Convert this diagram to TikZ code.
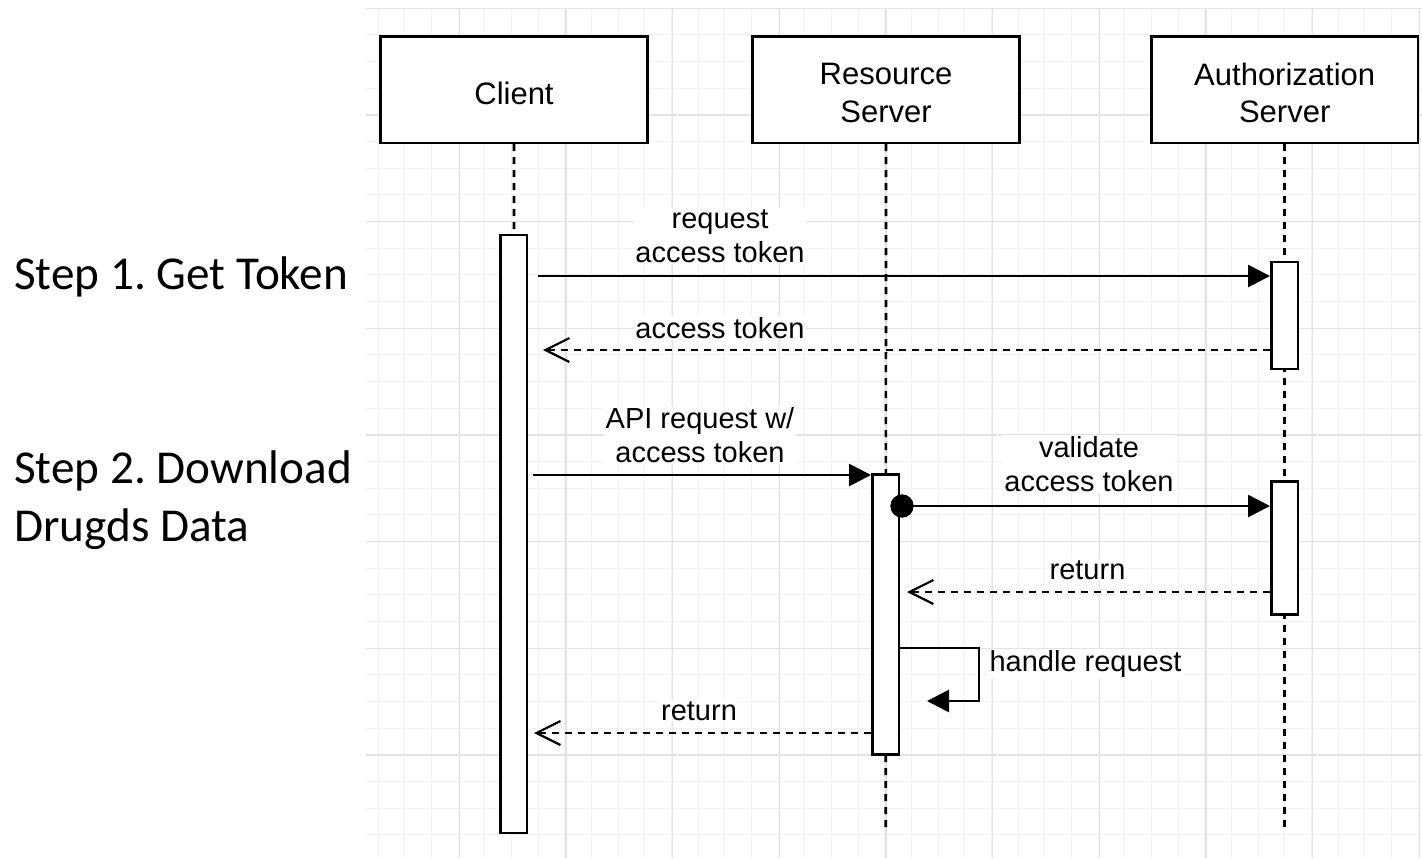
\documentclass[tikz,border=0pt]{standalone}
\usepackage{fontspec}
\setmainfont{Liberation Sans}
\newfontfamily\stepfont{Carlito}
\usetikzlibrary{arrows.meta}
\frenchspacing

\begin{document}
\begin{tikzpicture}[x=0.75pt,y=-0.75pt,
  actor/.style={draw,line width=2pt,fill=white,minimum width=200pt,minimum height=80pt,inner sep=0pt},
  actortext/.style={font=\fontsize{23.25}{28}\selectfont,align=center,inner sep=0pt,yshift=-2.6pt},
  activation/.style={draw,line width=2pt,fill=white,minimum width=20pt,inner sep=0pt},
  lifeline/.style={line width=2pt,dash pattern=on 5.25pt off 4.5pt},
  msg/.style={line width=2pt,-{Triangle[length=16.5pt,width=16.5pt]}},
  reply/.style={line width=2pt,dash pattern=on 5.25pt off 4.5pt,
    -{Straight Barb[length=18pt,width=18pt,line width=1.6pt]}},
  lbl/.style={fill=white,inner sep=1pt,font=\fontsize{21.75}{25.5}\selectfont,align=center},
  gridminor/.style={black!5,line width=0.75pt},
  gridmajor/.style={black!11,line width=0.9pt},
  steptext/.style={font=\stepfont\fontsize{35.4}{43.5}\selectfont,align=left,inner sep=0pt}
]
\useasboundingbox (0,0) rectangle (1422,858);
\fill[white] (0,0) rectangle (1422,858);

% background grid
\foreach \k in {0,...,39}
  \draw[gridminor] ({378.3+26.667*\k},8) -- ({378.3+26.667*\k},858);
\foreach \k in {0,...,31}
  \draw[gridminor] (366,{8.3+26.667*\k}) -- (1422,{8.3+26.667*\k});
\foreach \k in {0,...,9}
  \draw[gridmajor] ({459.3+106.667*\k},8) -- ({459.3+106.667*\k},858);
\foreach \k in {0,...,7}
  \draw[gridmajor] (366,{8.3+106.667*\k}) -- (1422,{8.3+106.667*\k});

% participants
\node[actor,label={[actortext]center:Client}] (client) at (514,89.5) {};
\node[actor,label={[actortext]center:Resource\\Server}] (res) at (886,89.5) {};
\node[actor,label={[actortext]center:Authorization\\Server}] (auth) at (1284.7,89.5) {};

% lifelines
\coordinate (clientend) at (513.5,833);
\coordinate (resend) at (885.7,833);
\coordinate (authend) at (1284.7,833);
\draw[lifeline] (client.south) -- (clientend);
\draw[lifeline] (res.south) -- (resend);
\draw[lifeline] (auth.south) -- (authend);

% activation bars
\node[activation,minimum height=448.5pt] (cact) at (513.5,534) {};
\node[activation,minimum height=210pt] (ract) at (885.7,614.3) {};
\node[activation,minimum height=80.25pt] (aact1) at (1284.7,315.5) {};
\node[activation,minimum height=99.5pt] (aact2) at (1284.7,548) {};

% 1: request access token
\coordinate (m1s) at (538,276);
\draw[msg] (m1s) -- (m1s -| aact1.west);
\node[lbl,anchor=base] (l1) at (720,262.3) {request\\access token};

% 2: access token
\coordinate (m2e) at (543,350);
\draw[reply] (m2e -| aact1.west) -- (m2e);
\node[lbl,anchor=base] (l2) at (720,338.3) {access token};

% 3: API request
\coordinate (m3s) at (533,475);
\draw[msg] (m3s) -- (m3s -| ract.west);
\node[lbl,anchor=base] (l3) at (700,462.3) {API request w/\\access token};

% 4: validate access token
\coordinate (m4s) at (902,506);
\fill (m4s) circle[radius=8.75pt];
\draw[msg] (m4s) -- (m4s -| aact2.west);
\node[lbl,anchor=base] (l4) at (1089,491.7) {validate\\access token};

% 5: return
\coordinate (m5e) at (907,592);
\draw[reply] (m5e -| aact2.west) -- (m5e);
\node[lbl,anchor=base] (l5) at (1087.5,579.3) {return};

% 6: handle request (self message)
\coordinate (m6a) at (979,648);
\coordinate (m6b) at (979,701);
\coordinate (m6e) at (927,701);
\draw[msg] (m6a -| ract.east) -- (m6a) -- (m6b) -- (m6e);
\node[lbl,anchor=base west] (l6) at (988,671.7) {handle request};

% 7: return
\coordinate (m7e) at (534,733);
\draw[reply] (m7e -| ract.west) -- (m7e);
\node[lbl,anchor=base] (l7) at (699,720) {return};

% step captions
\node[steptext,anchor=base west] (s1) at (14,289) {Step 1. Get Token};
\node[steptext,anchor=base west] (s2) at (14,541) {Step 2. Download\\Drugds Data};
\end{tikzpicture}
\end{document}
